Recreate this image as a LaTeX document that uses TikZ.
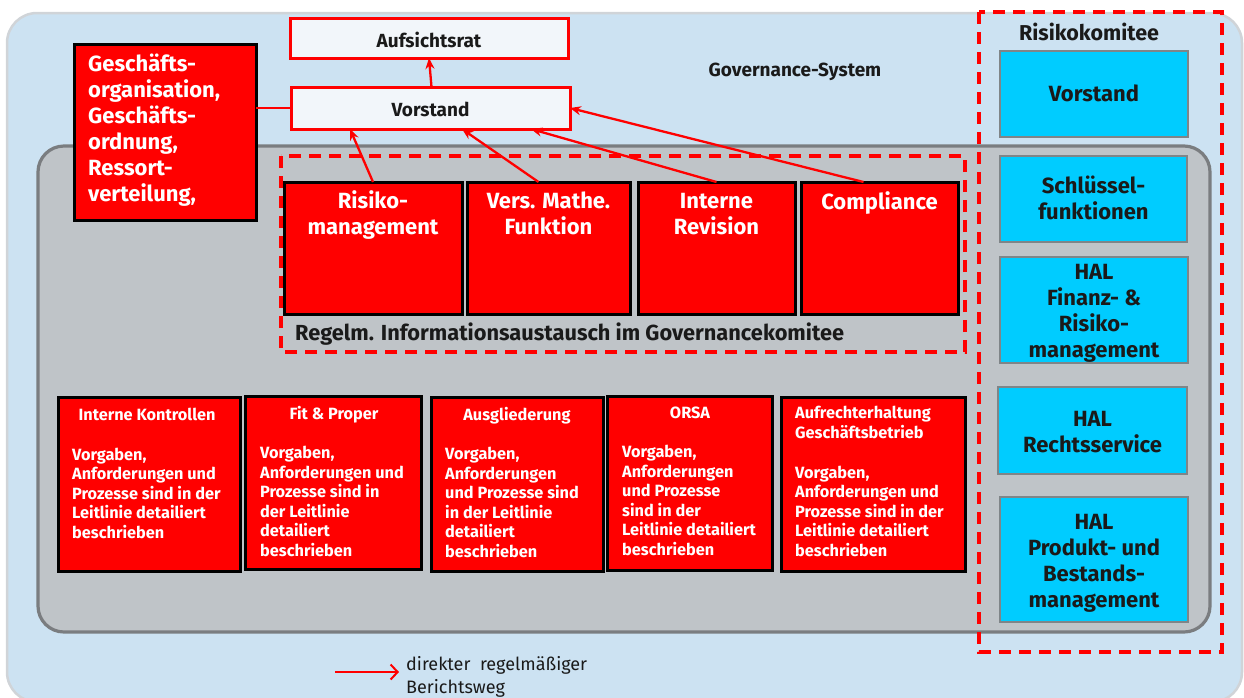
\documentclass[tikz,border=0pt]{standalone}
\usepackage{fontspec}
\setmainfont{Fira Sans}
\usetikzlibrary{arrows.meta,calc}

\definecolor{skyback}{HTML}{CCE2F2}
\definecolor{skyrim}{HTML}{D0D4D8}
\definecolor{panelgrey}{HTML}{BFC4C8}
\definecolor{panelrim}{HTML}{7A7D80}
\definecolor{alertred}{HTML}{FF0000}
\definecolor{keycyan}{HTML}{00CCFF}
\definecolor{keyrim}{HTML}{7F8588}
\definecolor{paleboard}{HTML}{F2F6FA}
\definecolor{inkdark}{HTML}{1A1A1A}

% multi-line nodes below are placed by the baseline of their LAST line
\tikzset{
  box/.style={rectangle, inner sep=0pt, outer sep=0pt, anchor=north west},
  redbox/.style={box, draw=black, fill=alertred, line width=3pt},
  keybox/.style={box, draw=keyrim, fill=keycyan, line width=2.8pt},
  boardbox/.style={box, draw=alertred, fill=paleboard, line width=3pt},
  dashframe/.style={draw=alertred, line width=3.2pt, dash pattern=on 12pt off 8pt},
  report/.style={draw=alertred, line width=2.3pt, -{Stealth[length=11pt,width=9pt]}},
  bigwhite/.style={font=\fontsize{22}{26}\selectfont\bfseries, text=white, inner sep=0pt},
  bigdark/.style={font=\fontsize{22}{26}\selectfont\bfseries, text=inkdark, inner sep=0pt},
  midark/.style={font=\fontsize{19}{22}\selectfont\bfseries, text=inkdark, inner sep=0pt},
  smallwhite/.style={font=\fontsize{16.3}{19.5}\selectfont\bfseries, text=white, inner sep=0pt},
}

\begin{document}
\begin{tikzpicture}[x=1pt,y=-1pt]
\useasboundingbox (0,0) rectangle (1244,697);

% background panels
\draw[draw=skyrim, fill=skyback, line width=2.5pt, rounded corners=30pt] (7,13) rectangle (1242,702);
\draw[draw=panelrim, fill=panelgrey, line width=3.2pt, rounded corners=26pt] (38,146) rectangle (1210,632);

% committee frames
\draw[dashframe] (281,156) rectangle (965,352);
\draw[dashframe] (979,12) rectangle (1222,652);

\node[midark, anchor=base] (govsys) at (795,76) {Governance-System};
\node[bigdark, font=\fontsize{21.5}{24}\selectfont\bfseries, anchor=base] (riskkom) at (1089,40) {Risikokomitee};

% board level
\node[boardbox, minimum width=278pt, minimum height=40pt] (auf) at (290,18) {};
\node[midark, anchor=base] (auftxt) at (auf.center |- 0,47) {Aufsichtsrat};
\node[boardbox, minimum width=279pt, minimum height=42pt] (vor) at (291,87) {};
\node[midark, anchor=base] (vortxt) at (vor.center |- 0,116) {Vorstand};

\node[redbox, minimum width=182pt, minimum height=176pt] (gesch) at (74,44) {};
\node[bigwhite, align=left, anchor=base west] (geschtxt) at (88,201)
  {Geschäfts-\\organisation,\\Geschäfts-\\ordnung,\\Ressort-\\verteilung,};

% key functions
\node[redbox, minimum width=178pt, minimum height=132pt] (risk) at (284,182) {};
\node[redbox, minimum width=163pt, minimum height=132pt] (vers) at (467,182) {};
\node[redbox, minimum width=157pt, minimum height=132pt] (rev)  at (638,182) {};
\node[redbox, minimum width=157pt, minimum height=132pt] (comp) at (801,182) {};
\node[bigwhite, align=center, anchor=base] (risktxt) at (risk.center |- 0,234) {Risiko-\\management};
\node[bigwhite, align=center, anchor=base] (verstxt) at (vers.center |- 0,234) {Vers. Mathe.\\Funktion};
\node[bigwhite, align=center, anchor=base] (revtxt)  at (rev.center |- 0,234) {Interne\\Revision};
\node[bigwhite, align=center, anchor=base] (comptxt) at (comp.center |- 0,209) {Compliance};

\node[font=\fontsize{21.8}{25}\selectfont\bfseries, text=inkdark, inner sep=0pt, anchor=base west]
  (regelm) at (295,340) {Regelm. Informationsaustausch im Governancekomitee};

% reporting lines
\draw[alertred, line width=2.3pt] (vor.west) -- (vor.west -| gesch.east);
\draw[report] ($(vor.north)+(1,0)$) -- (auf.south);
\draw[report] (risk.north) -- ($(vor.south west)+(59,0)$);
\draw[report] ($(vers.north)+(-10,0)$) -- ($(vor.south west)+(171,0)$);
\draw[report] (rev.north) -- ($(vor.south west)+(240,0)$);
\draw[report] ($(comp.north)+(-16,0)$) -- (vor.east);

% guidelines
\node[redbox, minimum width=182pt, minimum height=174pt] (ik)   at (58,397) {};
\node[redbox, minimum width=176pt, minimum height=173pt] (fit)  at (245,396) {};
\node[redbox, minimum width=172pt, minimum height=174pt] (aus)  at (431,397) {};
\node[redbox, minimum width=165pt, minimum height=174pt] (orsa) at (607,396) {};
\node[redbox, minimum width=184pt, minimum height=174pt] (aufr) at (781,397) {};

\node[smallwhite, anchor=base] (iktitle) at (147,420) {Interne Kontrollen};
\node[smallwhite, align=left, anchor=base west] (ikbody) at (72,538)
  {Vorgaben,\\Anforderungen und\\Prozesse sind in der\\Leitlinie detailiert\\beschrieben};
\node[smallwhite, anchor=base] (fittitle) at (334,419) {Fit \& Proper};
\node[smallwhite, align=left, anchor=base west] (fitbody) at (260,556)
  {Vorgaben,\\Anforderungen und\\Prozesse sind in\\der Leitlinie\\detailiert\\beschrieben};
\node[smallwhite, anchor=base] (austitle) at (517,420) {Ausgliederung};
\node[smallwhite, align=left, anchor=base west] (ausbody) at (445,557)
  {Vorgaben,\\Anforderungen\\und Prozesse sind\\in der Leitlinie\\detailiert\\beschrieben};
\node[smallwhite, anchor=base] (orsatitle) at (690,418) {ORSA};
\node[smallwhite, align=left, anchor=base west] (orsabody) at (622,555)
  {Vorgaben,\\Anforderungen\\und Prozesse\\sind in der\\Leitlinie detailiert\\beschrieben};
\node[smallwhite, align=left, anchor=base west] (aufrtitle) at (795,438)
  {Aufrechterhaltung\\Geschäftsbetrieb};
\node[smallwhite, align=left, anchor=base west] (aufrbody) at (795,556)
  {Vorgaben,\\Anforderungen und\\Prozesse sind in der\\Leitlinie detailiert\\beschrieben};

% risk committee members
\node[keybox, minimum width=188pt, minimum height=86pt]  (kvor)   at (1000,51) {};
\node[keybox, minimum width=187pt, minimum height=86pt]  (kschl)  at (1000,156) {};
\node[keybox, minimum width=188pt, minimum height=106pt] (kfin)   at (1000,257) {};
\node[keybox, minimum width=189pt, minimum height=87pt]  (krecht) at (998,387) {};
\node[keybox, minimum width=188pt, minimum height=125pt] (kprod)  at (1000,497) {};
\node[bigdark, anchor=base] (kvortxt) at (kvor.center |- 0,101) {Vorstand};
\node[bigdark, align=center, anchor=base] (kschltxt) at (kschl.center |- 0,219) {Schlüssel-\\funktionen};
\node[bigdark, align=center, anchor=base] (kfintxt) at (kfin.center |- 0,357) {HAL\\Finanz- \&\\Risiko-\\management};
\node[bigdark, align=center, anchor=base] (krechttxt) at (krecht.center |- 0,452) {HAL\\Rechtsservice};
\node[bigdark, align=center, anchor=base] (kprodtxt) at (kprod.center |- 0,607) {HAL\\Produkt- und\\Bestands-\\management};

% legend
\coordinate (lgA) at (335,672);
\coordinate (lgB) at (399,672);
\draw[alertred, line width=2pt, -{Straight Barb[length=7pt,width=15pt,line width=2pt]}] (lgA) -- (lgB);
\node[font=\fontsize{18}{23}\selectfont, text=inkdark, inner sep=0pt, align=left, anchor=base west]
  (lgtxt) at (406,693) {direkter\ \ regelmäßiger\\Berichtsweg};
\end{tikzpicture}
\end{document}
